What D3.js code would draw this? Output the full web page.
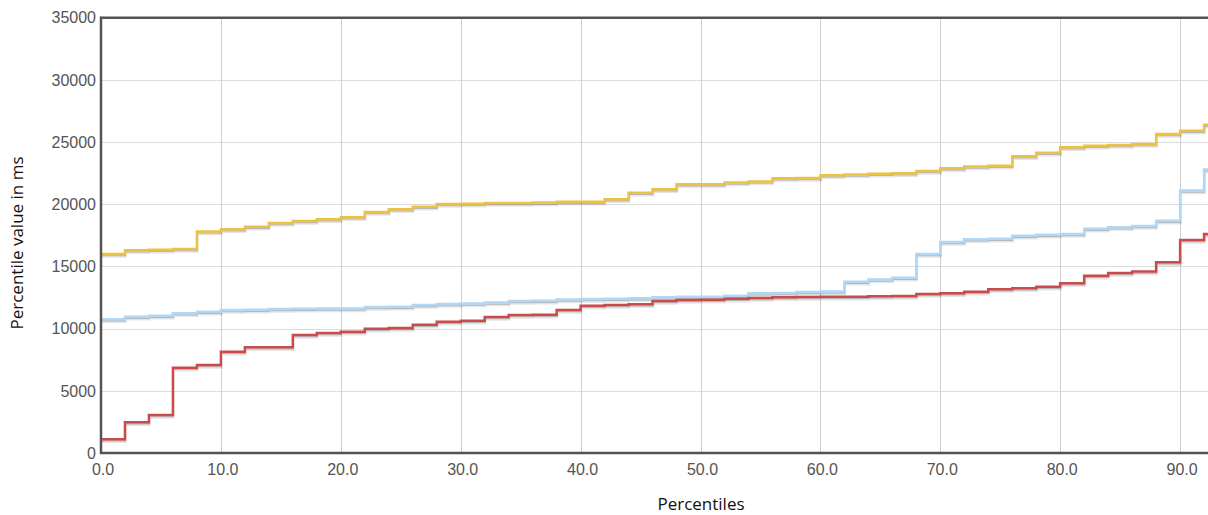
<!DOCTYPE html>
<html><head><meta charset="utf-8">
<script src="https://cdn.jsdelivr.net/npm/d3@7"></script>
<style>
html,body{margin:0;padding:0;background:#fff;overflow:hidden}
svg{display:block}
</style></head>
<body>
<svg id="chart" width="1208" height="515"></svg>
<script>
// Percentile positions (x) and series values (ms)
const percentiles = [0,2,4,6,8,10,12,14,16,18,20,22,24,26,28,30,32,34,36,38,40,42,44,46,48,50,52,54,56,58,60,62,64,66,68,70,72,74,76,78,80,82,84,86,88,90,92];
const seriesYellow = [16000,16300,16350,16400,17800,18000,18200,18500,18650,18800,18950,19380,19600,19800,20020,20050,20100,20100,20150,20200,20200,20400,20930,21200,21600,21600,21740,21820,22090,22120,22330,22400,22460,22500,22680,22890,23030,23100,23850,24150,24580,24710,24760,24840,25650,25920,26400];
const seriesBlue = [10750,10960,11040,11230,11360,11500,11520,11580,11600,11620,11620,11740,11760,11900,11980,12030,12110,12220,12250,12350,12380,12400,12440,12520,12570,12570,12650,12840,12870,12950,12980,13770,13960,14100,16000,16970,17180,17230,17470,17550,17600,18040,18150,18250,18680,21100,22800];
const seriesRed = [1100,2470,3050,6860,7075,8150,8500,8500,9490,9650,9750,10000,10050,10320,10560,10640,10935,11100,11120,11500,11845,11900,11960,12220,12300,12330,12410,12460,12520,12540,12560,12570,12600,12630,12785,12840,12970,13160,13240,13370,13640,14260,14470,14600,15330,17125,17600];
const xTicks = [0,10,20,30,40,50,60,70,80,90];
const yTicks = [0,5000,10000,15000,20000,25000,30000,35000];
const xTitle = "Percentiles";
const yTitle = "Percentile value in ms";
const colors = ["#edc240", "#afd8f8", "#cb4b4b"];

(function(){
const W = 1208;
const mLeft = 101, mTop = 17.7, mBottom = 453;
const xMax = 100;
const x = d3.scaleLinear().domain([0, xMax]).range([mLeft, mLeft + 11.99 * xMax]);
const y = d3.scaleLinear().domain([0, 35000]).range([mBottom, mTop]);

const svg = d3.select("#chart");
svg.append("defs").append("clipPath").attr("id","plotclip")
  .append("rect").attr("x", mLeft).attr("y", mTop).attr("width", W - mLeft).attr("height", mBottom - mTop);

// grid
const grid = svg.append("g");
grid.selectAll("line.h").data(yTicks.slice(1)).join("line")
  .attr("x1", mLeft).attr("x2", W).attr("y1", d => Math.round(y(d)) + 0.5).attr("y2", d => Math.round(y(d)) + 0.5)
  .attr("stroke", "#dcdcdc").attr("stroke-width", 1);
grid.selectAll("line.v").data(xTicks.slice(1)).join("line")
  .attr("y1", mTop).attr("y2", mBottom).attr("x1", d => Math.round(x(d)) + 0.5).attr("x2", d => Math.round(x(d)) + 0.5)
  .attr("stroke", "#cfcfcf").attr("stroke-width", 1);

// series
const line = d3.line().x(d => x(d[0])).y(d => y(d[1])).curve(d3.curveStepAfter);
const plot = svg.append("g").attr("clip-path", "url(#plotclip)");
[seriesYellow, seriesBlue, seriesRed].forEach((vals, i) => {
  const pts = percentiles.map((p, j) => [p, vals[j]]);
  pts.push([xMax, vals[vals.length - 1]]);
  const d = line(pts);
  plot.append("path").attr("d", d).attr("fill", "none")
    .attr("stroke", "rgba(0,0,0,0.1)").attr("stroke-width", 2.5).attr("transform", "translate(0.5,2.5)");
  plot.append("path").attr("d", d).attr("fill", "none")
    .attr("stroke", "rgba(0,0,0,0.2)").attr("stroke-width", 1.5).attr("transform", "translate(0.3,1.5)");
  plot.append("path").attr("d", d).attr("fill", "none")
    .attr("stroke", colors[i]).attr("stroke-width", 2.5).attr("stroke-linejoin", "miter");
});

// border (top, left, bottom)
const bc = "#545454";
svg.append("line").attr("x1", mLeft - 1).attr("x2", W).attr("y1", mTop).attr("y2", mTop).attr("stroke", bc).attr("stroke-width", 2.5);
svg.append("line").attr("x1", mLeft).attr("x2", mLeft).attr("y1", mTop - 1).attr("y2", mBottom + 1).attr("stroke", bc).attr("stroke-width", 2.5);
svg.append("line").attr("x1", mLeft - 1).attr("x2", W).attr("y1", mBottom).attr("y2", mBottom).attr("stroke", bc).attr("stroke-width", 2.5);

// tick labels
const font = "'Liberation Sans', Arial, sans-serif";
svg.append("g").selectAll("text").data(yTicks).join("text")
  .attr("x", 96).attr("y", d => y(d)).attr("dy", "0.36em").attr("text-anchor", "end")
  .attr("font-family", font).attr("font-size", 16).attr("fill", "#545454").text(d => d);
svg.append("g").selectAll("text").data(xTicks).join("text")
  .attr("x", d => x(d) + 2).attr("y", 475).attr("text-anchor", "middle")
  .attr("font-family", font).attr("font-size", 16).attr("fill", "#545454").text(d => d3.format(".1f")(d));

// axis titles
const tfont = "'Open Sans', 'DejaVu Sans', sans-serif";
svg.append("text").attr("x", 701).attr("y", 510).attr("text-anchor", "middle")
  .attr("font-family", tfont).attr("font-size", 17).attr("fill", "#111").text(xTitle);
svg.append("text").attr("transform", "translate(23,243) rotate(-90)").attr("text-anchor", "middle")
  .attr("font-family", tfont).attr("font-size", 17).attr("fill", "#111").text(yTitle);
})();
</script>
</body></html>
